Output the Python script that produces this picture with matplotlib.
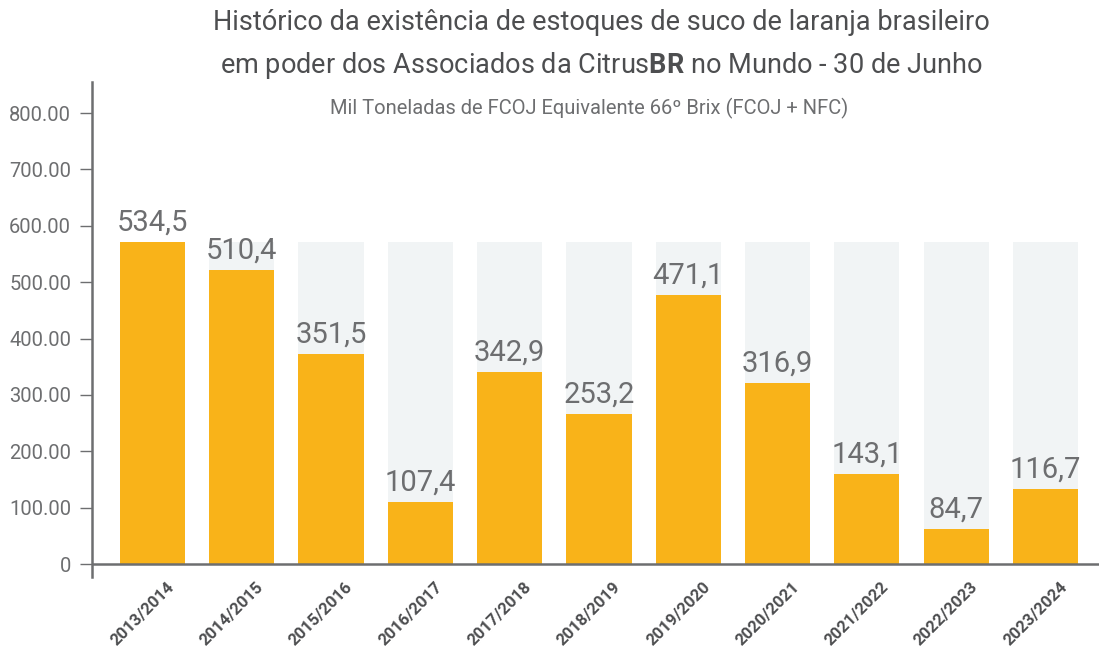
import matplotlib.pyplot as plt
from matplotlib.transforms import ScaledTranslation

# safras
safras = ['2013/2014', '2014/2015', '2015/2016', '2016/2017', '2017/2018', '2018/2019',
          '2019/2020', '2020/2021', '2021/2022', '2022/2023', '2023/2024']
# altura das barras como desenhadas no grafico original
alturas = [571, 522, 373, 110, 341, 266, 477, 321, 160, 62, 133]
# rotulos de valor (mil toneladas)
rotulos = ['534,5', '510,4', '351,5', '107,4', '342,9', '253,2',
           '471,1', '316,9', '143,1', '84,7', '116,7']
fundo = [571] * len(safras)
yticks = [0, 100, 200, 300, 400, 500, 600, 700, 800]

cinza = '#6d6e70'
escuro = '#4d4e50'
laranja = '#f9b319'

plt.rcParams['font.family'] = ['Roboto', 'DejaVu Sans']
plt.rcParams['mathtext.fontset'] = 'custom'
plt.rcParams['mathtext.bf'] = 'Roboto:bold'
plt.rcParams['mathtext.rm'] = 'Roboto'

fig = plt.figure(figsize=(10.99, 6.51), dpi=100)
ax = fig.add_axes([0.0837, 0.1137, 0.9163, 0.7603])

x = list(range(len(safras)))
ax.bar(x, fundo, width=0.73, color='#f1f4f5', zorder=1)
ax.bar(x, alturas, width=0.73, color=laranja, zorder=2)

for i, h in enumerate(alturas):
    ax.text(i, h + 10, rotulos[i], ha='center', va='bottom', fontsize=21,
            color=cinza, zorder=3)

ax.set_xlim(-0.677, 10.6)
ax.set_ylim(-23, 855)
ax.axhline(0, color=cinza, lw=1.8, zorder=4)

ax.set_yticks(yticks)
ax.set_yticklabels(['0' if v == 0 else f'{v:.2f}' for v in yticks], fontsize=14.5,
                   color=cinza)
ax.tick_params(axis='y', length=9, width=1, color=cinza, pad=6)

ax.set_xticks(x)
ax.set_xticklabels(safras, rotation=45, ha='right', rotation_mode='anchor',
                   fontsize=12, fontweight='bold', color=escuro)
ax.tick_params(axis='x', length=0, pad=0)
desloc = ScaledTranslation(0.14, -0.02, fig.dpi_scale_trans)
for lab in ax.get_xticklabels():
    lab.set_transform(lab.get_transform() + desloc)

for s in ['top', 'right', 'bottom']:
    ax.spines[s].set_visible(False)
ax.spines['left'].set_color(cinza)
ax.spines['left'].set_linewidth(1.8)

# titulo
fig.text(0.547, 0.966, 'Histórico da existência de estoques de suco de laranja brasileiro',
         ha='center', va='center', fontsize=19.5, color=escuro)
fig.text(0.547, 0.9, r'em poder dos Associados da Citrus$\mathbf{BR}$ no Mundo - 30 de Junho',
         ha='center', va='center', fontsize=19.5, color=escuro)
fig.text(0.536, 0.834, 'Mil Toneladas de FCOJ Equivalente 66º Brix (FCOJ + NFC)',
         ha='center', va='center', fontsize=14.5, color=cinza)

plt.savefig('out.png', dpi=100)
